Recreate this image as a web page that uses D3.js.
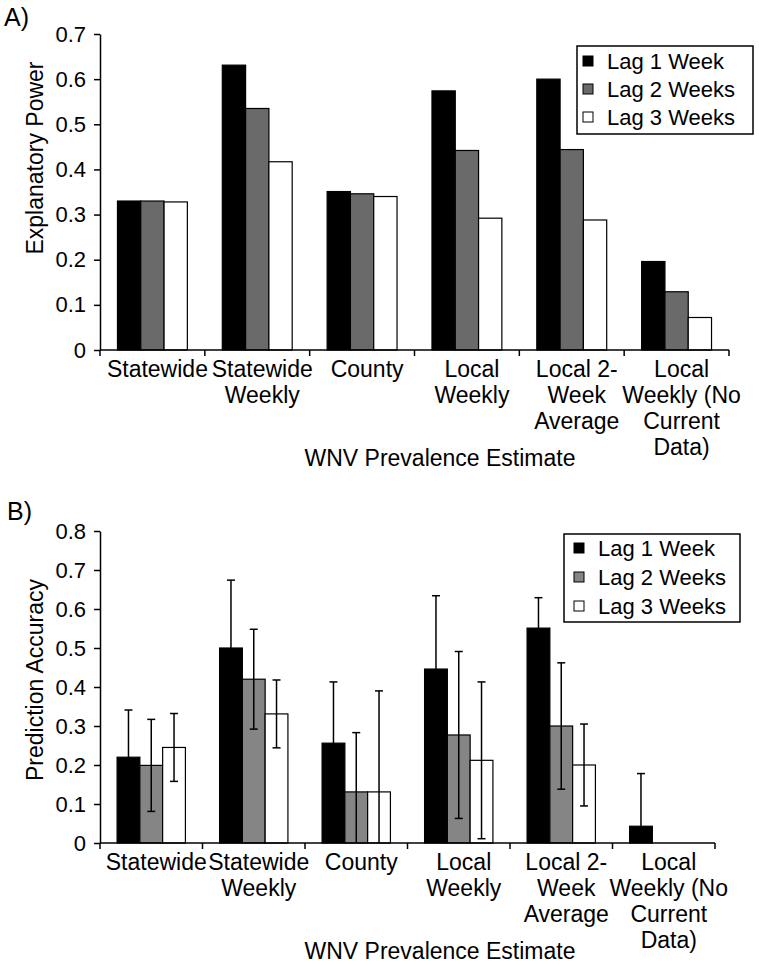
<!DOCTYPE html>
<html>
<head>
<meta charset="utf-8">
<script src="https://cdn.jsdelivr.net/npm/d3@7"></script>
<style>
  html, body { margin: 0; padding: 0; background: #fff; }
  svg { display: block; }
  text { font-family: "Liberation Sans", Arial, sans-serif; fill: #000; }
</style>
</head>
<body>
<svg id="chart" width="759" height="965"></svg>
<script>
// ---------- data ----------
const categories = ["Statewide", "Statewide Weekly", "County", "Local Weekly", "Local 2-Week Average", "Local Weekly (No Current Data)"];
const categoryLines = [["Statewide"], ["Statewide", "Weekly"], ["County"], ["Local", "Weekly"], ["Local 2-", "Week", "Average"], ["Local", "Weekly (No", "Current", "Data)"]];
const seriesNames = ["Lag 1 Week", "Lag 2 Weeks", "Lag 3 Weeks"];

// Panel A: explanatory power
const powerLag1 = [0.330, 0.631, 0.351, 0.574, 0.600, 0.196];
const powerLag2 = [0.330, 0.535, 0.346, 0.442, 0.444, 0.129];
const powerLag3 = [0.328, 0.417, 0.340, 0.292, 0.288, 0.072];
const powerTicks = [0, 0.1, 0.2, 0.3, 0.4, 0.5, 0.6, 0.7];

// Panel B: prediction accuracy with +/- error
const accLag1 = [0.220, 0.500, 0.256, 0.446, 0.551, 0.043];
const accLag2 = [0.199, 0.420, 0.131, 0.277, 0.300, 0];
const accLag3 = [0.245, 0.331, 0.131, 0.212, 0.200, 0];
const errLag1 = [0.121, 0.174, 0.157, 0.188, 0.078, 0.135];
const errLag2 = [0.118, 0.128, 0.152, 0.214, 0.162, 0];
const errLag3 = [0.087, 0.087, 0.259, 0.201, 0.105, 0];
const accTicks = [0, 0.1, 0.2, 0.3, 0.4, 0.5, 0.6, 0.7, 0.8];

const xTitle = "WNV Prevalence Estimate";

// ---------- drawing ----------
const svg = d3.select("#chart");

function panel(opts) {
  const g = svg.append("g");
  const x = d3.scaleBand().domain(categories).range(opts.xRange).paddingInner(0).paddingOuter(0);
  const xs = d3.scaleBand().domain(seriesNames).range([0, x.bandwidth()]).paddingInner(0).paddingOuter(0.75);
  const y = d3.scaleLinear().domain(opts.yDomain).range(opts.yRange);

  // bars
  const rows = [];
  categories.forEach((c, i) => {
    seriesNames.forEach((s, j) => {
      rows.push({ c, s, v: opts.values[j][i], e: opts.errors ? opts.errors[j][i] : null, fill: opts.fills[j] });
    });
  });
  const drawn = rows.filter(d => d.v > 0);
  g.selectAll("rect.bar").data(drawn).enter().append("rect")
    .attr("class", "bar")
    .attr("x", d => x(d.c) + xs(d.s))
    .attr("y", d => y(d.v))
    .attr("width", xs.bandwidth())
    .attr("height", d => y(0) - y(d.v))
    .attr("fill", d => d.fill)
    .attr("stroke", "#000")
    .attr("stroke-width", 1.2);

  // error bars
  if (opts.errors) {
    const eb = drawn.filter(d => d.e > 0);
    const cap = 4;
    const ge = g.selectAll("g.err").data(eb).enter().append("g").attr("class", "err")
      .attr("stroke", "#000").attr("stroke-width", 1.5);
    ge.append("line")
      .attr("x1", d => x(d.c) + xs(d.s) + xs.bandwidth() / 2)
      .attr("x2", d => x(d.c) + xs(d.s) + xs.bandwidth() / 2)
      .attr("y1", d => y(d.v + d.e))
      .attr("y2", d => y(Math.max(0, d.v - d.e)));
    ge.append("line")
      .attr("x1", d => x(d.c) + xs(d.s) + xs.bandwidth() / 2 - cap)
      .attr("x2", d => x(d.c) + xs(d.s) + xs.bandwidth() / 2 + cap)
      .attr("y1", d => y(d.v + d.e))
      .attr("y2", d => y(d.v + d.e));
    ge.filter(d => d.v - d.e > 0).append("line")
      .attr("x1", d => x(d.c) + xs(d.s) + xs.bandwidth() / 2 - cap)
      .attr("x2", d => x(d.c) + xs(d.s) + xs.bandwidth() / 2 + cap)
      .attr("y1", d => y(d.v - d.e))
      .attr("y2", d => y(d.v - d.e));
  }

  // y axis
  const ya = g.append("g")
    .attr("transform", `translate(${opts.xRange[0]},0)`)
    .call(d3.axisLeft(y).tickValues(opts.ticks).tickSize(6).tickSizeOuter(0).tickPadding(8)
      .tickFormat(d => d === 0 ? "0" : d3.format(".1f")(d)));
  ya.select(".domain").attr("stroke", "#000").attr("stroke-width", 1.5);
  ya.selectAll(".tick line").attr("stroke", "#000").attr("stroke-width", 1.5);
  ya.selectAll(".tick text").attr("font-size", 22).attr("font-family", "Liberation Sans, Arial, sans-serif").attr("fill", "#000");

  // x axis
  const xa = g.append("g").attr("transform", `translate(0,${y(0)})`);
  xa.append("line").attr("x1", opts.xRange[0]).attr("x2", opts.xRange[1])
    .attr("stroke", "#000").attr("stroke-width", 1.5);
  const bounds = categories.map(c => x(c)).concat([opts.xRange[1]]);
  xa.selectAll("line.tk").data(bounds).enter().append("line").attr("class", "tk")
    .attr("x1", d => d).attr("x2", d => d).attr("y1", 0).attr("y2", 6)
    .attr("stroke", "#000").attr("stroke-width", 1.5);
  const lbl = xa.selectAll("text.cat").data(categories).enter().append("text").attr("class", "cat")
    .attr("text-anchor", "middle").attr("font-size", 23)
    .attr("transform", d => `translate(${x(d) + x.bandwidth() / 2 + 5},27)`);
  lbl.each(function (d, i) {
    const t = d3.select(this);
    categoryLines[i].forEach((ln, k) => {
      t.append("tspan").attr("x", 0).attr("y", k * 26).text(ln);
    });
  });

  // x title
  g.append("text").attr("x", 440).attr("y", y(0) + 116).attr("text-anchor", "middle")
    .attr("font-size", 23).text(xTitle);

  // y title
  g.append("text")
    .attr("transform", `translate(${opts.yTitleX},${opts.yTitleY}) rotate(-90)`)
    .attr("text-anchor", "middle").attr("font-size", 23).text(opts.yTitle);

  // panel letter
  g.append("text").attr("x", opts.letterX).attr("y", opts.letterY).attr("font-size", 25).text(opts.letter);

  // legend
  const L = opts.legend;
  const lg = g.append("g").attr("transform", `translate(${L.x},${L.y})`);
  lg.append("rect").attr("x", 0).attr("y", 0).attr("width", L.w).attr("height", L.h)
    .attr("fill", "#fff").attr("stroke", "#000").attr("stroke-width", 1.5);
  const items = lg.selectAll("g.li").data(seriesNames).enter().append("g").attr("class", "li")
    .attr("transform", (d, i) => `translate(0,${L.first + i * L.step})`);
  items.append("rect").attr("x", L.swX).attr("y", -5).attr("width", 10).attr("height", 10)
    .attr("fill", (d, i) => opts.fills[i]).attr("stroke", "#000").attr("stroke-width", 1);
  items.append("text").attr("x", L.txX).attr("y", 8).attr("font-size", 22).text(d => d);
}

panel({
  xRange: [100, 729], yDomain: [0, 0.7], yRange: [350, 34], ticks: powerTicks,
  values: [powerLag1, powerLag2, powerLag3], errors: null,
  fills: ["#000000", "#6a6a6a", "#ffffff"],
  yTitle: "Explanatory Power", yTitleX: 43, yTitleY: 158,
  letter: "A)", letterX: 4, letterY: 26,
  legend: { x: 577, y: 46, w: 176, h: 88, first: 15, step: 28, swX: 6, txX: 30 }
});

panel({
  xRange: [100, 715], yDomain: [0, 0.8], yRange: [843, 531], ticks: accTicks,
  values: [accLag1, accLag2, accLag3], errors: [errLag1, errLag2, errLag3],
  fills: ["#000000", "#858585", "#ffffff"],
  yTitle: "Prediction Accuracy", yTitleX: 43, yTitleY: 680,
  letter: "B)", letterX: 7, letterY: 520,
  legend: { x: 564, y: 534, w: 176, h: 88, first: 14, step: 29, swX: 10, txX: 34 }
});
</script>
</body>
</html>
